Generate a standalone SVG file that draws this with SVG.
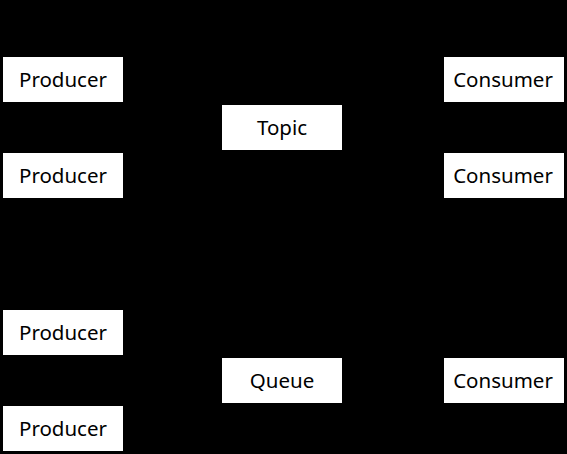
<svg xmlns="http://www.w3.org/2000/svg" width="567" height="454" viewBox="0 0 567 454">
<style>
.box{fill:#ffffff;stroke:none}
.lbl{font-family:"Noto Sans","Open Sans","Liberation Sans",sans-serif;font-size:20.5px;fill:#000000;text-anchor:middle}
</style>
<rect x="0" y="0" width="567" height="454" fill="#000000"/>
<g id="connectors"></g>
<g id="producer1"><rect class="box" x="3" y="57" width="120" height="45"/><text class="lbl" x="63" y="87">Producer</text></g>
<g id="producer2"><rect class="box" x="3" y="153" width="120" height="45"/><text class="lbl" x="63" y="183">Producer</text></g>
<g id="topic"><rect class="box" x="222" y="105" width="120" height="45"/><text class="lbl" x="282" y="135">Topic</text></g>
<g id="consumer1"><rect class="box" x="444" y="57" width="120" height="45"/><text class="lbl" x="503" y="87">Consumer</text></g>
<g id="consumer2"><rect class="box" x="444" y="153" width="120" height="45"/><text class="lbl" x="503" y="183">Consumer</text></g>
<g id="producer3"><rect class="box" x="3" y="310" width="120" height="45"/><text class="lbl" x="63" y="340">Producer</text></g>
<g id="producer4"><rect class="box" x="3" y="406" width="120" height="45"/><text class="lbl" x="63" y="436">Producer</text></g>
<g id="queue"><rect class="box" x="222" y="358" width="120" height="45"/><text class="lbl" x="282" y="388">Queue</text></g>
<g id="consumer3"><rect class="box" x="444" y="358" width="120" height="45"/><text class="lbl" x="503" y="388">Consumer</text></g>
</svg>
